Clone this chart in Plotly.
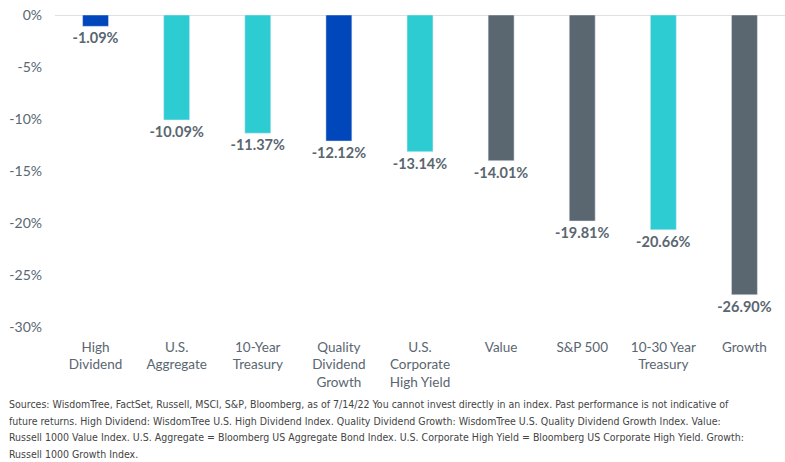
import plotly.graph_objects as go

categories = ["High<br>Dividend", "U.S.<br>Aggregate", "10-Year<br>Treasury", "Quality<br>Dividend<br>Growth",
              "U.S.<br>Corporate<br>High Yield", "Value", "S&P 500", "10-30 Year<br>Treasury", "Growth"]
values = [-1.09, -10.09, -11.37, -12.12, -13.14, -14.01, -19.81, -20.66, -26.90]
colors = ["#0047BB", "#2DCCD3", "#2DCCD3", "#0047BB", "#2DCCD3", "#5A6670", "#5A6670", "#2DCCD3", "#5A6670"]
tick_vals = [0, -5, -10, -15, -20, -25, -30]
tick_text = ["0%", "-5%", "-10%", "-15%", "-20%", "-25%", "-30%"]

note_lines = [
    "Sources: WisdomTree, FactSet, Russell, MSCI, S&P, Bloomberg, as of 7/14/22 You cannot invest directly in an index. Past performance is not indicative of",
    "future returns. High Dividend: WisdomTree U.S. High Dividend Index. Quality Dividend Growth: WisdomTree U.S. Quality Dividend Growth Index. Value:",
    "Russell 1000 Value Index. U.S. Aggregate = Bloomberg US Aggregate Bond Index. U.S. Corporate High Yield = Bloomberg US Corporate High Yield. Growth:",
    "Russell 1000 Growth Index.",
]

fig = go.Figure(go.Bar(
    x=categories, y=values, marker_color=colors, width=0.32,
    text=[f"{v:.2f}%" for v in values], textposition="outside", constraintext="none",
    textfont=dict(family="Lato", size=14.5, color="#5A6670", weight="bold"),
    cliponaxis=False,
))
fig.update_layout(
    width=785, height=462, margin=dict(l=55, r=0, t=15, b=135),
    plot_bgcolor="white", paper_bgcolor="white", showlegend=False,
    font=dict(family="Lato", color="#5A6670"),
)
fig.update_yaxes(range=[-30, 0], tickvals=tick_vals, ticktext=tick_text, showgrid=False,
                 zeroline=True, zerolinecolor="#E0E0E0", zerolinewidth=1,
                 tickfont=dict(size=14, color="#5A6670"), ticks="", ticklabelstandoff=12)
fig.update_xaxes(showline=False, tickfont=dict(size=13.5, color="#5A6670"), ticks="", ticklabelstandoff=10)
for i, line in enumerate(note_lines):
    fig.add_annotation(text=line, xref="paper", yref="paper", x=-48/730, y=-(77 + 16.7 * i)/312,
                       xanchor="left", yanchor="middle", align="left", showarrow=False,
                       font=dict(family="Liberation Sans Narrow, DejaVu Sans Condensed, Roboto", size=10.5, color="#444444"))
fig.write_html("out.html")
